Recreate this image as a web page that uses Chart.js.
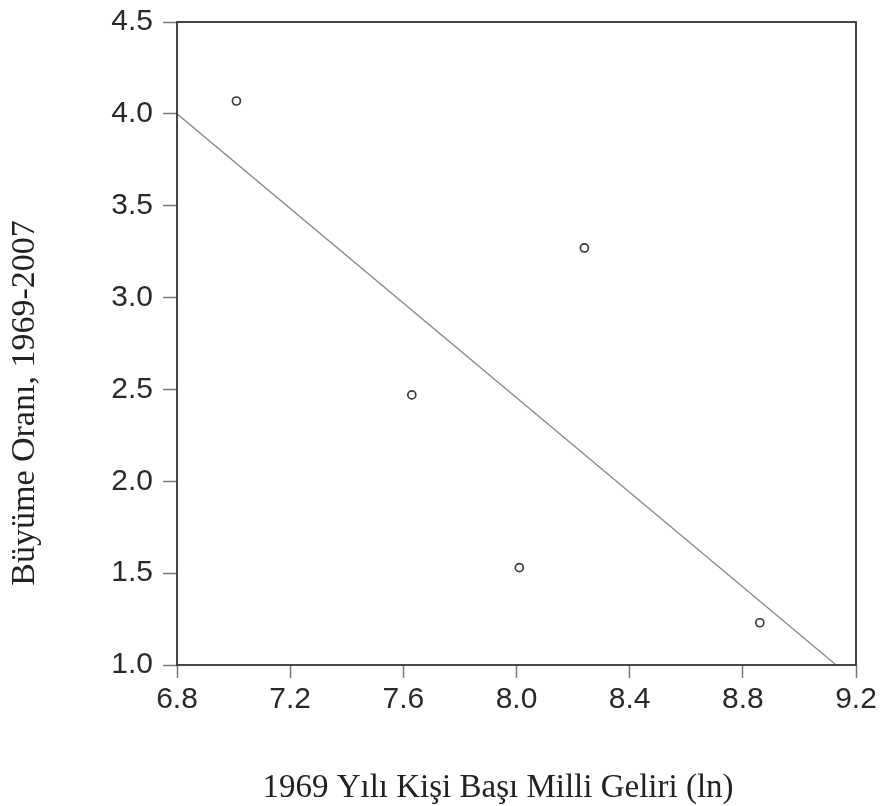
<!DOCTYPE html>
<html>
<head>
<meta charset="utf-8">
<title>Büyüme Oranı ve 1969 Geliri</title>
<script src="https://cdn.jsdelivr.net/npm/chart.js@4"></script>
<style>
  html, body { margin: 0; padding: 0; background: #fff; }
  #wrap { width: 883px; height: 806px; }
</style>
</head>
<body>
<div id="wrap"><canvas id="chart"></canvas></div>
<script>
// --- data ---
const incomeLn = [7.01, 8.24, 7.63, 8.01, 8.86];
const growthRate = [4.07, 3.27, 2.47, 1.53, 1.23];

// fitted line endpoints as drawn
const fitX = [6.8, 9.13];
const fitY = [4.0, 1.0];

const xTicks = [6.8, 7.2, 7.6, 8.0, 8.4, 8.8, 9.2];
const yTicks = [1.0, 1.5, 2.0, 2.5, 3.0, 3.5, 4.0, 4.5];

const xTitle = "1969 Yılı Kişi Başı Milli Geliri (ln)";
const yTitle = "Büyüme Oranı, 1969-2007";

const tickFont = { family: "'Liberation Sans', Arial, sans-serif", size: 30 };
const serif = "'Liberation Serif', 'Times New Roman', serif";

// box around the plot area + the two axis titles (placed as in the figure)
const frame = {
    id: "frame",
    afterDraw(chart) {
        const a = chart.chartArea;
        const c = chart.ctx;
        c.save();
        c.strokeStyle = "#333";
        c.lineWidth = 1.8;
        c.strokeRect(a.left, a.top, a.right - a.left, a.bottom - a.top);

        c.fillStyle = "#222";
        c.textAlign = "center";
        c.textBaseline = "alphabetic";
        c.font = "33px " + serif;
        c.fillText(xTitle, 498, 797);

        c.font = "34px " + serif;
        c.translate(34, 403);
        c.rotate(-Math.PI / 2);
        c.fillText(yTitle, 0, 0);
        c.restore();
    }
};

new Chart(document.getElementById("chart"), {
    type: "scatter",
    data: {
        datasets: [{
            data: incomeLn.map((x, i) => ({ x: x, y: growthRate[i] })),
            pointRadius: 4,
            pointBorderWidth: 1.7,
            pointBorderColor: "#3a3a3a",
            pointBackgroundColor: "#fff"
        }, {
            data: fitX.map((x, i) => ({ x: x, y: fitY[i] })),
            showLine: true,
            pointRadius: 0,
            borderColor: "#8a8a8a",
            borderWidth: 1.3
        }]
    },
    options: {
        responsive: true,
        maintainAspectRatio: false,
        animation: false,
        layout: { padding: { top: 22, right: 27, left: 0, bottom: 0 } },
        plugins: {
            legend: { display: false },
            tooltip: { enabled: false }
        },
        scales: {
            x: {
                min: 6.8,
                max: 9.2,
                afterBuildTicks: s => { s.ticks = xTicks.map(v => ({ value: v })); },
                afterFit: s => {
                    s.height = 141;
                    s.paddingLeft = 0;
                    s.paddingRight = 0;
                },
                ticks: {
                    color: "#2a2a2a",
                    font: tickFont,
                    padding: 4,
                    maxRotation: 0,
                    callback: v => v.toFixed(1)
                },
                grid: {
                    drawOnChartArea: false,
                    drawTicks: true,
                    tickLength: 13,
                    tickColor: "#777",
                    tickWidth: 1.5
                },
                border: { display: false }
            },
            y: {
                min: 1.0,
                max: 4.5,
                afterBuildTicks: s => { s.ticks = yTicks.map(v => ({ value: v })); },
                afterFit: s => {
                    s.width = 177;
                    s.paddingTop = 0;
                    s.paddingBottom = 0;
                },
                ticks: {
                    color: "#2a2a2a",
                    font: tickFont,
                    padding: 10,
                    callback: v => v.toFixed(1)
                },
                grid: {
                    drawOnChartArea: false,
                    drawTicks: true,
                    tickLength: 14,
                    tickColor: "#777",
                    tickWidth: 1.5
                },
                border: { display: false }
            }
        }
    },
    plugins: [frame]
});
</script>
</body>
</html>
